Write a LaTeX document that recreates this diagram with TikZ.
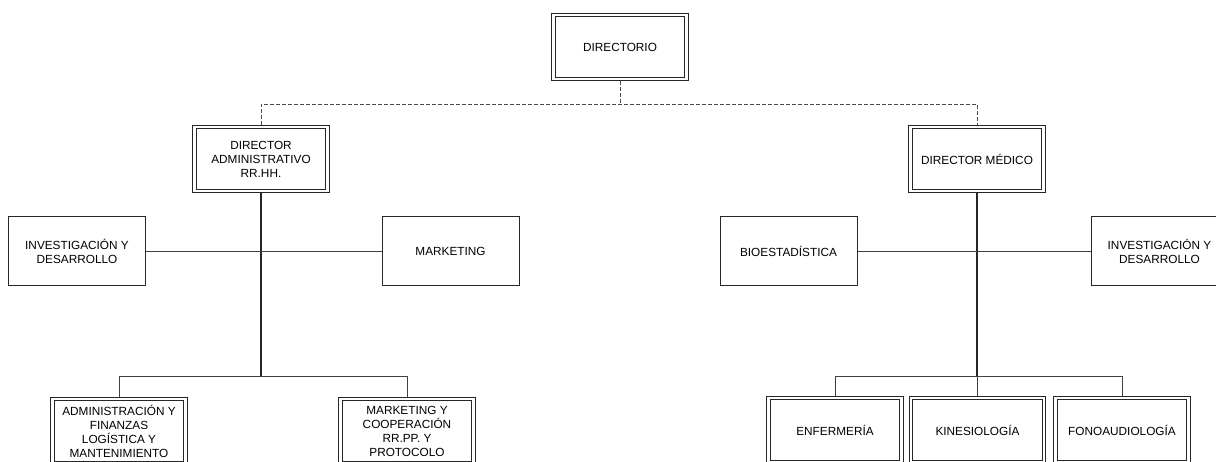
\documentclass[tikz,border=0pt]{standalone}
\usepackage{fontspec}
\setmainfont{Liberation Sans}
\usetikzlibrary{positioning,backgrounds}

\begin{document}
\begin{tikzpicture}[
  x=1bp, y=-1bp,
  font=\fontsize{11.8bp}{14bp}\selectfont,
  unit/.style={
    draw=black!85,
    line width=1bp,
    align=center,
    inner sep=2bp,
    minimum width=137bp,
    minimum height=69bp
  },
  head/.style={
    draw=black!85,
    line width=0.9bp,
    align=center,
    inner sep=4bp,
    minimum width=136.5bp,
    minimum height=67.5bp,
    path picture={
      \draw[black!85, line width=1.2bp]
        ([shift={(3.4bp,3.4bp)}]path picture bounding box.south west) rectangle
        ([shift={(-3.4bp,-3.4bp)}]path picture bounding box.north east);
    }
  },
  trunk/.style={line width=1.4bp, draw=black!85},
  branch/.style={line width=0.8bp, draw=black!75},
  dashline/.style={line width=0.8bp, draw=black!70, dash pattern=on 4bp off 2bp}
]
  \useasboundingbox (0,0) rectangle (1216,462);

  % Top of the chart
  \node[head] (dir) at (620,47) {DIRECTORIO};
  \node[head] (adm) at (261,159) {DIRECTOR\\ADMINISTRATIVO\\RR.HH.};
  \node[head] (med) at (977,159) {DIRECTOR MÉDICO};

  % Staff units beside each trunk
  \node[unit] (invadm) at (77,251.5) {INVESTIGACIÓN Y\\DESARROLLO};
  \node[unit] (mkt) at (450.5,251.5) {MARKETING};
  \node[unit] (bio) at (788.5,251.5) {BIOESTADÍSTICA};
  \node[unit] (invmed) at (1159.5,251.5) {INVESTIGACIÓN Y\\DESARROLLO};

  % Line departments (cut by the lower edge)
  \node[head] (fin) at (119,431) {ADMINISTRACIÓN Y\\FINANZAS\\LOGÍSTICA Y\\MANTENIMIENTO};
  \node[head] (coop) at (407,431) {MARKETING Y\\COOPERACIÓN\\RR.PP. Y\\PROTOCOLO};
  \node[head] (enf) at (835,430) {ENFERMERÍA};
  \node[head] (kin) at (977.5,430) {KINESIOLOGÍA};
  \node[head] (fono) at (1122,430) {FONOAUDIOLOGÍA};

  \coordinate (dashy) at (0,104);
  \coordinate (lowy) at (0,376);

  \begin{scope}[on background layer]
    % Dashed link from the board
    \draw[dashline] (dir.south) -- (dir.south |- dashy);
    \draw[dashline] (adm.north) |- (med.north |- dashy) -- (med.north);

    % Administrative side
    \draw[trunk] (adm.south) -- (adm.south |- lowy);
    \draw[branch] (invadm.east) -- (mkt.west);
    \draw[branch] (fin.north) |- (coop.north |- lowy) -- (coop.north);

    % Medical side
    \draw[trunk] (med.south) -- (med.south |- lowy);
    \draw[branch] (bio.east) -- (invmed.west);
    \draw[branch] (enf.north) |- (fono.north |- lowy) -- (fono.north);
    \draw[branch] (kin.north |- lowy) -- (kin.north);
  \end{scope}
\end{tikzpicture}
\end{document}
